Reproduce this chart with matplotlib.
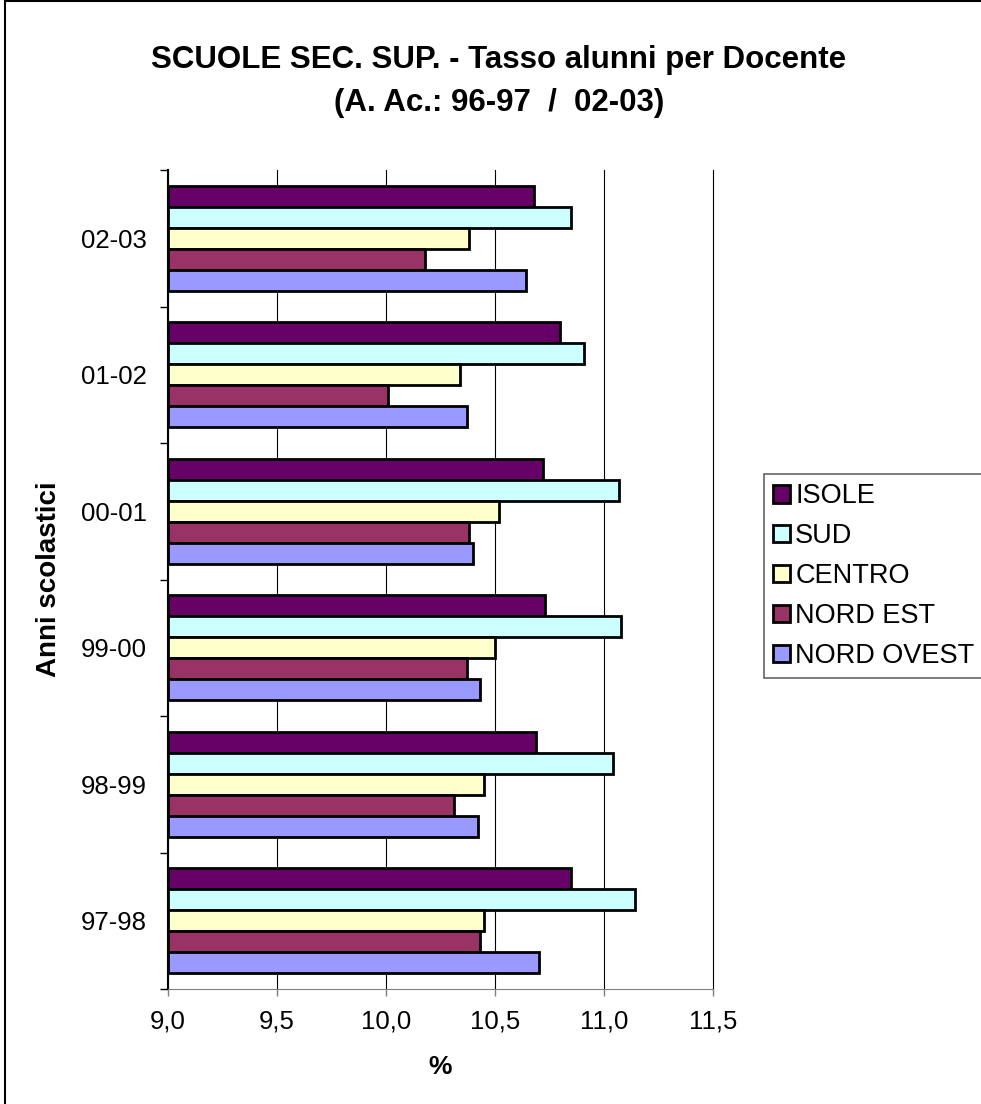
import matplotlib.pyplot as plt
from matplotlib.patches import Rectangle
import numpy as np

plt.rcParams['font.family'] = ['Liberation Sans', 'DejaVu Sans']

anni = ["97-98", "98-99", "99-00", "00-01", "01-02", "02-03"]
regioni = ["ISOLE", "SUD", "CENTRO", "NORD EST", "NORD OVEST"]
colori = ["#660066", "#CCFFFF", "#FFFFCC", "#993366", "#9999FF"]

isole = [10.85, 10.69, 10.73, 10.72, 10.80, 10.68]
sud = [11.14, 11.04, 11.08, 11.07, 10.91, 10.85]
centro = [10.45, 10.45, 10.50, 10.52, 10.34, 10.38]
nord_est = [10.43, 10.31, 10.37, 10.38, 10.01, 10.18]
nord_ovest = [10.70, 10.42, 10.43, 10.40, 10.37, 10.64]

serie = [isole, sud, centro, nord_est, nord_ovest]

fig = plt.figure(figsize=(9.81, 11.04), dpi=100)
ax = fig.add_axes([168 / 981, 1 - 989 / 1104, (713 - 168) / 981, (989 - 170) / 1104])

# cornice del grafico (tagliata a destra e in basso)
fig.patches.append(Rectangle((5 / 981, -0.1), 2, 1.1 - 1 / 1104, transform=fig.transFigure,
                             fill=False, edgecolor="black", linewidth=1.5, zorder=0))

y = np.arange(len(anni))
h = 0.154
for i, (nome, vals, col) in enumerate(zip(regioni, serie, colori)):
    off = (2 - i) * h
    ax.barh(y + off, np.array(vals) - 9.0, left=9.0, height=h, color=col,
            edgecolor="black", linewidth=2, label=nome, zorder=3)

ax.set_xlim(9.0, 11.5)
ax.set_ylim(-0.5, 5.5)
xt = [9.0, 9.5, 10.0, 10.5, 11.0, 11.5]
ax.set_xticks(xt)
ax.set_xticklabels([f"{v:.1f}".replace(".", ",") for v in xt], fontsize=18.5)
ax.tick_params(axis="x", length=5, width=1, color="#808080", pad=10)

ax.set_yticks(np.arange(-0.5, 6, 1))
ax.set_yticklabels([])
ax.tick_params(axis="y", which="major", length=6, width=1)
ax.set_yticks(y, minor=True)
ax.set_yticklabels(anni, minor=True, fontsize=18.5)
ax.tick_params(axis="y", which="minor", length=0, pad=15)

ax.grid(axis="x", color="black", linewidth=0.8, zorder=0)
for gl in ax.get_xgridlines():
    gl.set_clip_on(False)
ax.spines["top"].set_visible(False)
ax.spines["right"].set_visible(False)
ax.spines["left"].set_color("black")
ax.spines["left"].set_linewidth(1.5)
ax.spines["bottom"].set_color("#808080")

ax.set_xlabel("%", fontsize=19, fontweight="bold")
ax.xaxis.set_label_coords(0.5, -0.081)
ax.set_ylabel("Anni scolastici", fontsize=20, fontweight="bold")
ax.yaxis.set_label_coords(-0.195, 0.5)

fig.text(499 / 981, 1 - 60 / 1104, "SCUOLE SEC. SUP. - Tasso alunni per Docente",
         ha="center", va="center", fontsize=22.5, fontweight="bold")
fig.text(499 / 981, 1 - 103 / 1104, "(A. Ac.: 96-97  /  02-03)",
         ha="center", va="center", fontsize=22.5, fontweight="bold")

leg = fig.legend(loc="upper left", bbox_to_anchor=(764 / 981, 1 - 474 / 1104),
                 fontsize=19.5, frameon=True, fancybox=False, edgecolor="#404040",
                 handlelength=0.6, handleheight=0.6, handletextpad=0.2,
                 labelspacing=0.51, borderpad=0.35, borderaxespad=0)
leg.get_frame().set_linewidth(1.2)

fig.savefig("out.png", dpi=100)
